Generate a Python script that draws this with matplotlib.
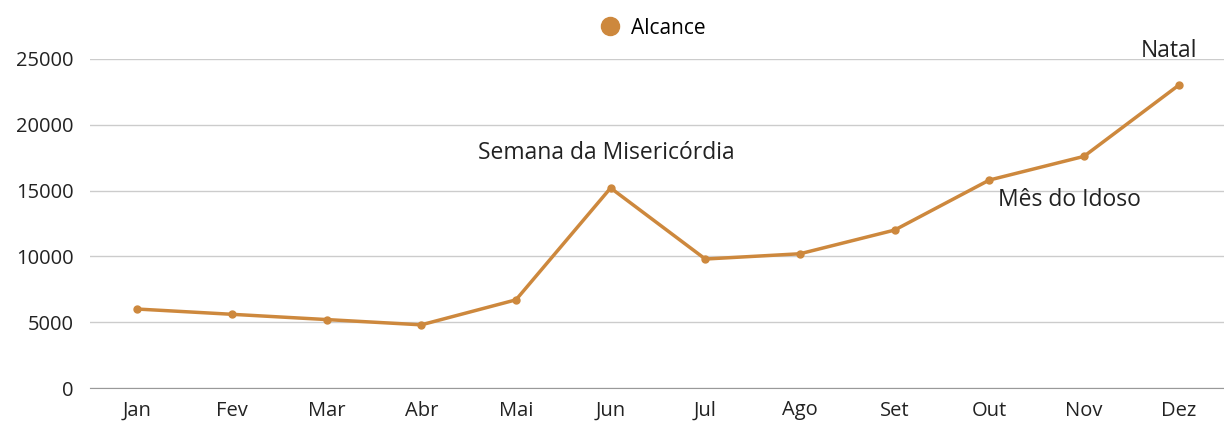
import numpy as np
import matplotlib
matplotlib.use("Agg")
from matplotlib import pyplot as plt

plt.rcParams["font.family"] = ["Open Sans", "DejaVu Sans"]

meses = ["Jan", "Fev", "Mar", "Abr", "Mai", "Jun", "Jul", "Ago", "Set", "Out", "Nov", "Dez"]
alcance = [6000, 5600, 5200, 4800, 6700, 15200, 9800, 10200, 12000, 15800, 17600, 23000]
notas = [("Semana da Misericórdia", 5), ("Mês do Idoso", 9), ("Natal", 11)]

cor = "#CD883D"

fig = plt.figure(figsize=(12.24, 4.21), dpi=100)
ax = fig.add_axes([90 / 1224, 33 / 421, 1134 / 1224, 329 / 421])

x = np.arange(len(meses)) + 0.5
ax.plot(x, alcance, color=cor, lw=2.5, marker="o", ms=5, label="Alcance", zorder=3)

ax.set_xlim(0, 11.98)
ax.set_ylim(0, 25000)
ax.set_yticks(range(0, 25001, 5000))
ax.set_xticks(x)
ax.set_xticklabels(meses)
ax.tick_params(length=0, labelsize=14.5, colors="#222222")
ax.tick_params(axis="y", pad=12)
ax.tick_params(axis="x", pad=9)
ax.grid(True, axis="y", color="#cccccc", lw=1)
for s in ["top", "right", "left"]:
    ax.spines[s].set_visible(False)
ax.spines["bottom"].set_color("#999999")

# anotações
offsets = {5: (-3, 25), 9: (58, -14), 11: (-7, 25)}
for texto, i in notas:
    dx, dy = offsets[i]
    ax.annotate(texto, (x[i], alcance[i]), xytext=(dx, dy), textcoords="offset points",
                ha="center", va="center", fontsize=16.5, color="#222222")

leg = ax.legend(loc="lower center", bbox_to_anchor=(0.497, 1.005), frameon=False,
                fontsize=15, handlelength=0.8, handletextpad=0.6)
for h in leg.legend_handles:
    h.set_linestyle("")
    h.set_markersize(13)

fig.savefig("out.png", dpi=100)
